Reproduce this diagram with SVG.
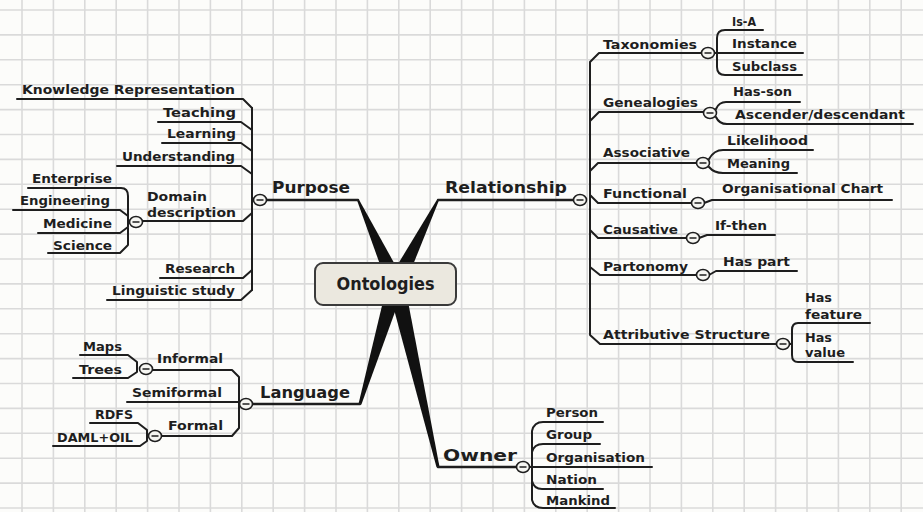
<svg xmlns="http://www.w3.org/2000/svg" width="923" height="512" viewBox="0 0 923 512">
<style>
  .grid{stroke:#dadada;stroke-width:1.6;fill:none}
  .ln{stroke:#1e1e1e;stroke-width:2;fill:none;stroke-linejoin:round;stroke-linecap:round}
  .main{stroke-width:2.4}
  .wedge{fill:#111}
  text{font-family:"DejaVu Sans",Verdana,sans-serif;font-weight:bold;fill:#1e1e1e}
  .t{font-size:13px}
  .m{font-size:16px}
  .root{font-size:17px}
  .btn{fill:#f6f6f2;stroke:#1e1e1e;stroke-width:1.6}
  .minus{stroke:#1e1e1e;stroke-width:1.5}
</style>
<defs>
  <g id="btn"><ellipse rx="6.5" ry="5.5" class="btn"/><path d="M-3.5,0H3.5" class="minus"/></g>
</defs>

<!-- paper background with grid -->
<rect width="923" height="512" fill="#fcfcfa"/>
<path class="grid" d="M22 0V512M53.4 0V512M84.8 0V512M116.2 0V512M147.6 0V512M179 0V512M210.4 0V512M241.8 0V512M273.2 0V512M304.6 0V512M336 0V512M367.4 0V512M398.8 0V512M430.2 0V512M461.6 0V512M493 0V512M524.4 0V512M555.8 0V512M587.2 0V512M618.6 0V512M650 0V512M681.4 0V512M712.8 0V512M744.2 0V512M775.6 0V512M807 0V512M838.4 0V512M869.8 0V512M901.2 0V512
M0 10H923M0 34.9H923M0 59.8H923M0 84.7H923M0 109.6H923M0 134.5H923M0 159.4H923M0 184.3H923M0 209.2H923M0 234.1H923M0 259H923M0 283.9H923M0 308.8H923M0 333.7H923M0 358.6H923M0 383.5H923M0 408.4H923M0 433.3H923M0 458.2H923M0 483.1H923M0 508H923"/>

<!-- connectors -->
<g id="connectors">
  <!-- tapered main branches -->
  <polygon class="wedge" points="403.8,280.4 358.9,199.6 357.1,200.4 388.2,287.6"/>
  <polygon class="wedge" points="403.7,288 438.9,200.4 437.1,199.6 388.3,280"/>
  <polygon class="wedge" points="387.8,281.5 358.6,403.6 361.4,404.4 404.2,286.5"/>
  <polygon class="wedge" points="387.7,286 436.5,467.3 439.5,466.7 404.3,282"/>

  <!-- main underlines -->
  <path class="ln main" d="M266,200H358M438,200H574M252,404H360M438,467H517"/>

  <!-- Purpose branch -->
  <path class="ln" d="M252,108V290"/>
  <path class="ln" d="M17,99H243L252,108M158,122H241L252,130M162,143H241L252,151M117,166H241L252,174M142,221H243L252,213M160,278H243L252,270M107,300H241L252,290"/>
  <!-- Domain description children -->
  <path class="ln" d="M128,196V245M28,188H121Q128,188 128,196M13,210H120L128,216M38,233H120L128,227M48,253H120L128,245"/>

  <!-- Language branch -->
  <path class="ln" d="M239,377V428M152,370H232L239,377M127,402H240M161,436H232L239,428"/>
  <path class="ln" d="M137,362V372M80,355H128L137,362M73,378H128L137,372"/>
  <path class="ln" d="M147,430V441M90,423H138L147,430M53,446H140L147,441"/>

  <!-- Owner branch -->
  <path class="ln" d="M532,431V500M532,431Q534,422 543,422H603M532,452Q534,444 543,444H600M529,467H652M532,481Q534,489 542,489H603M532,500Q534,508 543,508H615"/>

  <!-- Relationship branch -->
  <path class="ln" d="M590,62V335M590,62L599,53H702M590,121L599,112H704M590,171L598,163H697M590,195L598,203H692M590,230L598,238H687M590,267L600,275H697M590,335L600,344H777"/>
  <path class="ln" d="M717,38V67M717,38Q717,30 725,30H763M714,53H803M717,67Q717,75 725,75H802"/>
  <path class="ln" d="M716,109Q719,102 726,102H800M716,117Q719,124 727,124H913"/>
  <path class="ln" d="M709,159Q714,150 723,150H813M709,167Q714,173 723,173H797"/>
  <path class="ln" d="M704,203L712,200H892"/>
  <path class="ln" d="M699,238L707,235H775"/>
  <path class="ln" d="M709,275L716,271H797"/>
  <path class="ln" d="M789,344H792M798,323Q792,323 792,330V355Q792,362 798,362H853M798,323H870"/>
</g>

<!-- central node -->
<g id="ontologies">
  <rect x="315" y="263" width="141" height="42" rx="8" fill="#ebe8df" stroke="#3a3a3a" stroke-width="2"/>
  <text class="root" x="385.5" y="290" text-anchor="middle" textLength="98" lengthAdjust="spacingAndGlyphs">Ontologies</text>
</g>

<!-- Purpose -->
<g id="purpose"><text class="m" x="272" y="193" textLength="78" lengthAdjust="spacingAndGlyphs">Purpose</text><use href="#btn" x="260" y="200"/></g>
<g id="knowledge-representation"><text class="t" x="22" y="94" textLength="213" lengthAdjust="spacingAndGlyphs">Knowledge Representation</text></g>
<g id="teaching"><text class="t" x="163" y="117" textLength="73" lengthAdjust="spacingAndGlyphs">Teaching</text></g>
<g id="learning"><text class="t" x="167" y="138" textLength="69" lengthAdjust="spacingAndGlyphs">Learning</text></g>
<g id="understanding"><text class="t" x="122" y="161" textLength="113" lengthAdjust="spacingAndGlyphs">Understanding</text></g>
<g id="domain-description"><text class="t" x="147" y="201" textLength="60" lengthAdjust="spacingAndGlyphs">Domain</text><text class="t" x="147" y="217" textLength="89" lengthAdjust="spacingAndGlyphs">description</text><use href="#btn" x="136" y="222"/></g>
<g id="enterprise"><text class="t" x="32" y="183" textLength="80" lengthAdjust="spacingAndGlyphs">Enterprise</text></g>
<g id="engineering"><text class="t" x="20" y="205" textLength="90" lengthAdjust="spacingAndGlyphs">Engineering</text></g>
<g id="medicine"><text class="t" x="43" y="228" textLength="69" lengthAdjust="spacingAndGlyphs">Medicine</text></g>
<g id="science"><text class="t" x="53" y="250" textLength="59" lengthAdjust="spacingAndGlyphs">Science</text></g>
<g id="research"><text class="t" x="165" y="273" textLength="70" lengthAdjust="spacingAndGlyphs">Research</text></g>
<g id="linguistic-study"><text class="t" x="112" y="295" textLength="123" lengthAdjust="spacingAndGlyphs">Linguistic study</text></g>

<!-- Language -->
<g id="language"><text class="m" x="260" y="398" textLength="90" lengthAdjust="spacingAndGlyphs">Language</text><use href="#btn" x="246" y="404"/></g>
<g id="informal"><text class="t" x="157" y="363" textLength="66" lengthAdjust="spacingAndGlyphs">Informal</text><use href="#btn" x="146" y="369"/></g>
<g id="maps"><text class="t" x="83" y="351" textLength="39" lengthAdjust="spacingAndGlyphs">Maps</text></g>
<g id="trees"><text class="t" x="79" y="374" textLength="43" lengthAdjust="spacingAndGlyphs">Trees</text></g>
<g id="semiformal"><text class="t" x="132" y="397" textLength="90" lengthAdjust="spacingAndGlyphs">Semiformal</text></g>
<g id="formal"><text class="t" x="168" y="430" textLength="55" lengthAdjust="spacingAndGlyphs">Formal</text><use href="#btn" x="155" y="436"/></g>
<g id="rdfs"><text class="t" x="95" y="419" textLength="38" lengthAdjust="spacingAndGlyphs">RDFS</text></g>
<g id="daml-oil"><text class="t" x="57" y="442" textLength="76" lengthAdjust="spacingAndGlyphs">DAML+OIL</text></g>

<!-- Owner -->
<g id="owner"><text class="m" x="443" y="461" textLength="74" lengthAdjust="spacingAndGlyphs">Owner</text><use href="#btn" x="523" y="467"/></g>
<g id="person"><text class="t" x="546" y="417" textLength="52" lengthAdjust="spacingAndGlyphs">Person</text></g>
<g id="group"><text class="t" x="546" y="439" textLength="46" lengthAdjust="spacingAndGlyphs">Group</text></g>
<g id="organisation"><text class="t" x="546" y="462" textLength="99" lengthAdjust="spacingAndGlyphs">Organisation</text></g>
<g id="nation"><text class="t" x="546" y="484" textLength="51" lengthAdjust="spacingAndGlyphs">Nation</text></g>
<g id="mankind"><text class="t" x="546" y="505" textLength="64" lengthAdjust="spacingAndGlyphs">Mankind</text></g>

<!-- Relationship -->
<g id="relationship"><text class="m" x="445" y="193" textLength="122" lengthAdjust="spacingAndGlyphs">Relationship</text><use href="#btn" x="580" y="200"/></g>
<g id="taxonomies"><text class="t" x="603" y="49" textLength="94" lengthAdjust="spacingAndGlyphs">Taxonomies</text><use href="#btn" x="708" y="53"/></g>
<g id="is-a"><text class="t" x="732" y="26" textLength="24" lengthAdjust="spacingAndGlyphs">Is-A</text></g>
<g id="instance"><text class="t" x="732" y="48" textLength="65" lengthAdjust="spacingAndGlyphs">Instance</text></g>
<g id="subclass"><text class="t" x="732" y="71" textLength="65" lengthAdjust="spacingAndGlyphs">Subclass</text></g>
<g id="genealogies"><text class="t" x="603" y="107" textLength="95" lengthAdjust="spacingAndGlyphs">Genealogies</text><use href="#btn" x="710" y="113"/></g>
<g id="has-son"><text class="t" x="733" y="96" textLength="59" lengthAdjust="spacingAndGlyphs">Has-son</text></g>
<g id="ascender-descendant"><text class="t" x="735" y="119" textLength="170" lengthAdjust="spacingAndGlyphs">Ascender/descendant</text></g>
<g id="associative"><text class="t" x="603" y="157" textLength="87" lengthAdjust="spacingAndGlyphs">Associative</text><use href="#btn" x="703" y="163"/></g>
<g id="likelihood"><text class="t" x="727" y="145" textLength="81" lengthAdjust="spacingAndGlyphs">Likelihood</text></g>
<g id="meaning"><text class="t" x="727" y="168" textLength="63" lengthAdjust="spacingAndGlyphs">Meaning</text></g>
<g id="functional"><text class="t" x="603" y="198" textLength="84" lengthAdjust="spacingAndGlyphs">Functional</text><use href="#btn" x="698" y="203"/></g>
<g id="organisational-chart"><text class="t" x="722" y="193" textLength="161" lengthAdjust="spacingAndGlyphs">Organisational Chart</text></g>
<g id="causative"><text class="t" x="603" y="234" textLength="75" lengthAdjust="spacingAndGlyphs">Causative</text><use href="#btn" x="693" y="238"/></g>
<g id="if-then"><text class="t" x="715" y="230" textLength="52" lengthAdjust="spacingAndGlyphs">If-then</text></g>
<g id="partonomy"><text class="t" x="603" y="271" textLength="85" lengthAdjust="spacingAndGlyphs">Partonomy</text><use href="#btn" x="703" y="275"/></g>
<g id="has-part"><text class="t" x="723" y="266" textLength="67" lengthAdjust="spacingAndGlyphs">Has part</text></g>
<g id="attributive-structure"><text class="t" x="603" y="339" textLength="167" lengthAdjust="spacingAndGlyphs">Attributive Structure</text><use href="#btn" x="783" y="344"/></g>
<g id="has-feature"><text class="t" x="805" y="302" textLength="27" lengthAdjust="spacingAndGlyphs">Has</text><text class="t" x="805" y="319" textLength="57" lengthAdjust="spacingAndGlyphs">feature</text></g>
<g id="has-value"><text class="t" x="805" y="342" textLength="27" lengthAdjust="spacingAndGlyphs">Has</text><text class="t" x="805" y="357" textLength="40" lengthAdjust="spacingAndGlyphs">value</text></g>
</svg>
